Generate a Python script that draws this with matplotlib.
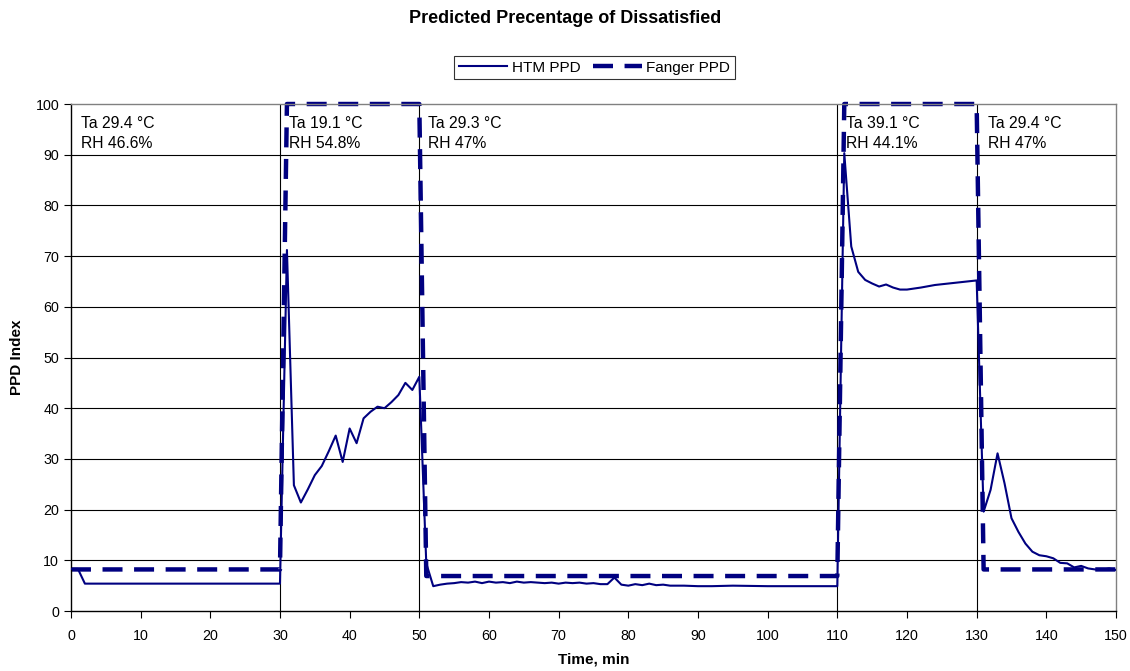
import numpy as np
import matplotlib.pyplot as plt

plt.rcParams['font.family'] = ['Liberation Sans', 'DejaVu Sans']

# HTM PPD (time in minutes, value)
htm_t = [0, 1, 2, 10, 20, 30, 31, 32, 33, 34, 35, 36, 37, 38, 39, 40, 41, 42, 43, 44, 45, 46, 47, 48, 49, 50,
         51, 52, 53, 54, 55, 56, 57, 58, 59, 60, 61, 62, 63, 64, 65, 66, 67, 68, 69, 70, 71, 72, 73, 74, 75, 76, 77,
         78, 79, 80, 81, 82, 83, 84, 85, 86, 88, 90, 92, 95, 100, 105, 110,
         111, 112, 113, 114, 115, 116, 117, 118, 119, 120, 122, 124, 126, 128, 130,
         131, 132, 133, 134, 135, 136, 137, 138, 139, 140, 141, 142, 143, 144, 145, 146, 147, 148, 149, 150]
htm_ppd = [8.3, 8.3, 5.4, 5.4, 5.4, 5.4, 71.2, 24.8, 21.4, 24.0, 26.8, 28.6, 31.5, 34.6, 29.4, 36.0, 33.1, 38.0, 39.3, 40.3, 40.0, 41.2, 42.6, 45.0, 43.6, 46.2,
           9.4, 4.9, 5.2, 5.4, 5.5, 5.7, 5.6, 5.8, 5.5, 5.8, 5.6, 5.7, 5.5, 5.8, 5.6, 5.7, 5.6, 5.5, 5.6, 5.4, 5.6, 5.5, 5.6, 5.4, 5.5, 5.3, 5.3,
           6.6, 5.2, 5.0, 5.3, 5.1, 5.4, 5.1, 5.2, 5.0, 5.0, 4.9, 4.9, 5.0, 4.9, 4.9, 4.9,
           90.3, 71.9, 66.9, 65.3, 64.6, 64.0, 64.4, 63.8, 63.4, 63.4, 63.8, 64.3, 64.6, 64.9, 65.2,
           19.6, 23.9, 31.1, 25.2, 18.3, 15.6, 13.3, 11.7, 11.0, 10.8, 10.4, 9.5, 9.4, 8.6, 8.9, 8.4, 8.2, 8.1, 8.4, 8.1]

# Fanger PPD
fanger_t = [0, 30, 31, 50, 51, 110, 111, 130, 131, 150]
fanger_ppd = [8.2, 8.2, 100, 100, 6.9, 6.9, 100, 100, 8.2, 8.2]

# Conditions per phase
cond_t = [1.4, 31.3, 51.3, 111.3, 131.6]
cond_text = ['Ta 29.4 °C\nRH 46.6%', 'Ta 19.1 °C\nRH 54.8%', 'Ta 29.3 °C\nRH 47%',
             'Ta 39.1 °C\nRH 44.1%', 'Ta 29.4 °C\nRH 47%']
phase_edges = [30, 50, 110, 130]

navy = '#000080'

fig = plt.figure(figsize=(11.3, 6.71), dpi=100)
ax = fig.add_axes([0.0628, 0.0894, 0.9248, 0.7556])

for y in range(10, 100, 10):
    ax.axhline(y, color='black', lw=0.8, zorder=1)
for x in phase_edges:
    ax.axvline(x, color='black', lw=0.8, zorder=1)

ax.plot(htm_t, htm_ppd, color=navy, lw=1.5, label='HTM PPD', zorder=3)
ax.plot(fanger_t, fanger_ppd, color=navy, lw=3.2, dashes=(4.5, 2.6), label='Fanger PPD',
        zorder=2, clip_on=False)

for x, s in zip(cond_t, cond_text):
    ax.text(x, 97.6, s, fontsize=11.3, va='top', ha='left', linespacing=1.4, zorder=4)

ax.set_xlim(0, 150)
ax.set_ylim(0, 100)
ax.set_xticks(range(0, 151, 10))
ax.set_yticks(range(0, 101, 10))
ax.tick_params(direction='out', length=5, width=0.8, labelsize=10.3, color='black')
ax.tick_params(axis='x', pad=8)
for sp in ax.spines.values():
    sp.set_color('#808080')
    sp.set_linewidth(1.0)
ax.spines['left'].set_color('black')
ax.spines['bottom'].set_color('black')

ax.set_xlabel('Time, min', fontsize=11, fontweight='bold', labelpad=7)
ax.set_ylabel('PPD Index', fontsize=11, fontweight='bold', labelpad=8)

fig.text(0.5, 0.973, 'Predicted Precentage of Dissatisfied', ha='center', va='center',
         fontsize=13, fontweight='bold')

leg = fig.legend(loc='center', bbox_to_anchor=(0.526, 0.899), ncol=2, frameon=True, fancybox=False,
                 fontsize=11, handlelength=3.2, handletextpad=0.3, columnspacing=0.8,
                 borderpad=0.3, borderaxespad=0)
leg.get_frame().set_edgecolor('black')
leg.get_frame().set_linewidth(0.8)

fig.savefig('out.png', dpi=100)
